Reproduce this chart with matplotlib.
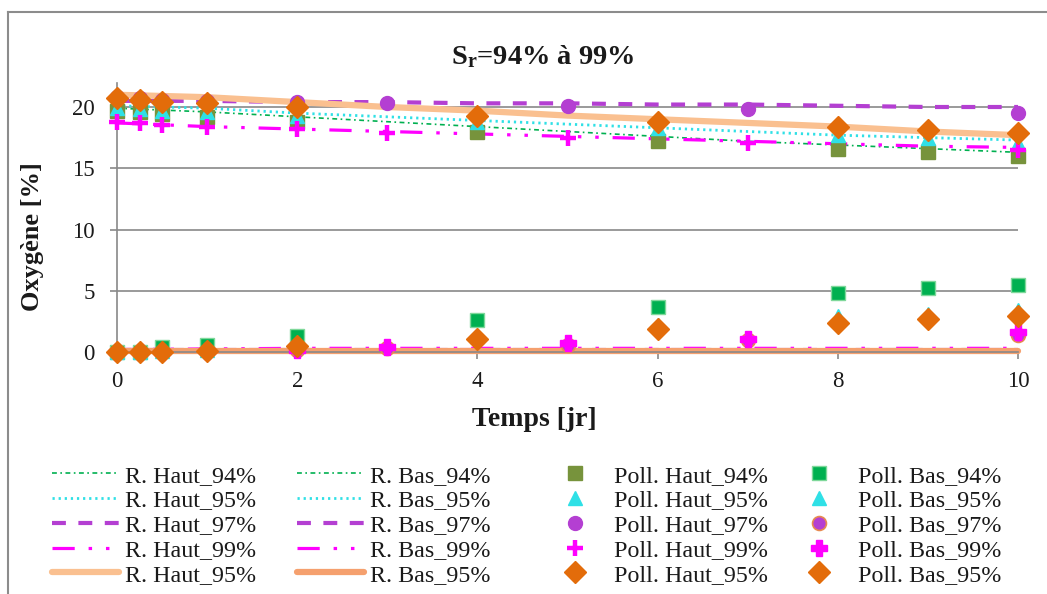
import matplotlib
matplotlib.use("Agg")
import matplotlib.pyplot as plt
from matplotlib.lines import Line2D

plt.rcParams['font.family'] = ['Liberation Serif', 'DejaVu Serif']
plt.rcParams['mathtext.fontset'] = 'custom'
plt.rcParams['mathtext.rm'] = 'Liberation Serif'
plt.rcParams['mathtext.bf'] = 'Liberation Serif:bold'
plt.rcParams['lines.scale_dashes'] = False

# ---------------- data ----------------
t_model = [0, 1, 2, 3, 4, 5, 6, 7, 8, 9, 10]
r_haut_94 = [19.9, 19.6, 19.2, 18.8, 18.4, 18.0, 17.6, 17.2, 16.9, 16.6, 16.3]
r_haut_95 = [20.1, 19.9, 19.5, 19.2, 18.9, 18.6, 18.3, 18.0, 17.7, 17.5, 17.3]
r_haut_97 = [20.5, 20.5, 20.4, 20.4, 20.3, 20.3, 20.2, 20.2, 20.1, 20.0, 20.0]
r_haut_99 = [18.7, 18.4, 18.2, 18.0, 17.8, 17.6, 17.4, 17.2, 17.0, 16.8, 16.7]
r_haut_95b = [21.0, 20.8, 20.4, 20.0, 19.7, 19.3, 19.0, 18.7, 18.4, 18.0, 17.7]
r_bas_94 = [0.1, 0.1, 0.1, 0.1, 0.1, 0.1, 0.1, 0.1, 0.1, 0.1, 0.1]
r_bas_95 = [0.1, 0.1, 0.1, 0.1, 0.1, 0.1, 0.1, 0.1, 0.1, 0.1, 0.1]
r_bas_97 = [0.15, 0.15, 0.15, 0.15, 0.15, 0.15, 0.15, 0.15, 0.15, 0.15, 0.15]
r_bas_99 = [0.2, 0.25, 0.3, 0.3, 0.3, 0.3, 0.3, 0.3, 0.3, 0.3, 0.3]
r_bas_95b = [0.05, 0.05, 0.05, 0.05, 0.05, 0.05, 0.05, 0.05, 0.05, 0.05, 0.05]

t_a = [0, 0.25, 0.5, 1, 2, 4, 6, 8, 9, 10]
p_haut_94 = [19.7, 19.6, 19.4, 19.2, 18.8, 18.0, 17.2, 16.6, 16.3, 16.0]
p_bas_94 = [0.0, 0.0, 0.4, 0.6, 1.3, 2.6, 3.7, 4.8, 5.2, 5.5]
p_haut_95 = [19.9, 19.8, 19.7, 19.6, 19.3, 18.8, 18.3, 17.7, 17.5, 17.1]
p_bas_95 = [0.0, 0.0, 0.1, 0.2, 0.6, 1.3, 2.2, 2.9, 3.1, 3.4]
p_haut_95b = [20.7, 20.6, 20.4, 20.3, 20.0, 19.3, 18.8, 18.4, 18.1, 17.9]
p_bas_95b = [0.0, 0.0, 0.0, 0.1, 0.5, 1.1, 1.9, 2.4, 2.7, 2.9]

t_b = [0, 0.25, 0.5, 1, 2, 3, 5, 7, 10]
p_haut_97 = [20.8, 20.7, 20.6, 20.5, 20.4, 20.3, 20.1, 19.8, 19.5]
p_bas_97 = [0.0, 0.0, 0.0, 0.1, 0.2, 0.35, 0.6, 1.0, 1.4]
p_haut_99 = [18.8, 18.7, 18.5, 18.4, 18.2, 17.9, 17.5, 17.1, 16.5]
p_bas_99 = [0.0, 0.0, 0.0, 0.1, 0.2, 0.4, 0.7, 1.1, 1.6]

x_ticks = [0, 2, 4, 6, 8, 10]
y_ticks = [0, 5, 10, 15, 20]

# ---------------- figure ----------------
W, H = 1047, 594
fig = plt.figure(figsize=(W / 100, H / 100), dpi=100)

def fx(px):
    return px / W

def fy(py):
    return 1 - py / H

x0, x1 = 117, 1018
y0 = 352
ytop = 352 - 22 * 12.25
ax = fig.add_axes([fx(x0), fy(y0), fx(x1) - fx(x0), fy(ytop) - fy(y0)])
ax.set_xlim(0, 10)
ax.set_ylim(0, 22)

grid_c = '#898989'
for s in ['top', 'right']:
    ax.spines[s].set_visible(False)
for s in ['left', 'bottom']:
    ax.spines[s].set_color(grid_c)
    ax.spines[s].set_linewidth(1.2)
ax.set_yticks(y_ticks)
ax.set_xticks(x_ticks)
ax.tick_params(axis='both', direction='out', color=grid_c, width=1.2, length=5,
               labelsize=16.5, labelcolor='#1a1a1a')
ax.tick_params(axis='y', pad=11)
ax.tick_params(axis='x', pad=9)
ax.yaxis.grid(True, color=grid_c, linewidth=1.2)
ax.set_axisbelow(True)

green = '#00B050'
cyan = '#2FE0E6'
purple = '#B43FD2'
magenta = '#FF00FF'
orange_l = '#FAC090'
orange_b = '#F5A06E'
olive = '#77933C'
orange_d = '#E36C0A'

sty_94 = dict(color=green, lw=1.2, linestyle=(0, (3.5, 2.5, 1.2, 2.5)))
sty_95 = dict(color=cyan, lw=2.0, linestyle=(0, (1.6, 2.8)))
sty_97 = dict(color=purple, lw=3.0, linestyle=(0, (10, 9)))
sty_99 = dict(color=magenta, lw=2.3, linestyle=(0, (16, 10, 2.5, 10, 2.5, 10)))
sty_95b_h = dict(color=orange_l, lw=4.5, linestyle='-', solid_capstyle='round')
sty_95b_b = dict(color=orange_b, lw=4.5, linestyle='-', solid_capstyle='round')

lh = ax.plot(t_model, r_haut_94, label='R. Haut_94%', **sty_94)[0]
lh2 = ax.plot(t_model, r_haut_95, label='R. Haut_95%', **sty_95)[0]
lh3 = ax.plot(t_model, r_haut_97, label='R. Haut_97%', **sty_97)[0]
lh4 = ax.plot(t_model, r_haut_99, label='R. Haut_99%', **sty_99)[0]
lh5 = ax.plot(t_model, r_haut_95b, label='R. Haut_95%', **sty_95b_h)[0]
lb = ax.plot(t_model, r_bas_94, label='R. Bas_94%', **sty_94)[0]
lb2 = ax.plot(t_model, r_bas_95, label='R. Bas_95%', **sty_95)[0]
lb3 = ax.plot(t_model, r_bas_97, label='R. Bas_97%', **sty_97)[0]
lb4 = ax.plot(t_model, r_bas_99, label='R. Bas_99%', **sty_99)[0]
lb5 = ax.plot(t_model, r_bas_95b, label='R. Bas_95%', **sty_95b_b)[0]
for l in [lh, lh2, lh3, lh4, lh5, lb, lb2, lb3, lb4, lb5]:
    l.set_clip_on(False)

mk = dict(linestyle='none', clip_on=False, zorder=3)
m1 = ax.plot(t_a, p_haut_94, marker='s', ms=10.5, color=olive, mec=olive, label='Poll. Haut_94%', **mk)[0]
m2 = ax.plot(t_a, p_bas_94, marker='s', ms=10.5, color=green, mec='#7FD89A', mew=1, label='Poll. Bas_94%', **mk)[0]
m3 = ax.plot(t_a, p_haut_95, marker='^', ms=10.5, color=cyan, mec=cyan, label='Poll. Haut_95%', **mk)[0]
m4 = ax.plot(t_a, p_bas_95, marker='^', ms=10.5, color=cyan, mec=cyan, label='Poll. Bas_95%', **mk)[0]
m5 = ax.plot(t_b, p_haut_97, marker='o', ms=10, color=purple, mec=purple, label='Poll. Haut_97%', **mk)[0]
m6 = ax.plot(t_b, p_bas_97, marker='o', ms=10, color=purple, mec='#E88A50', mew=1.2, label='Poll. Bas_97%', **mk)[0]
m7 = ax.plot(t_b, p_haut_99, marker='+', ms=11, mew=3.2, color=magenta, label='Poll. Haut_99%', **mk)[0]
m8 = ax.plot(t_b, p_bas_99, marker='P', ms=11, color=magenta, mec=magenta, label='Poll. Bas_99%', **mk)[0]
m9 = ax.plot(t_a, p_haut_95b, marker='D', ms=11.5, color=orange_d, mec=orange_d, label='Poll. Haut_95%', **mk)[0]
m10 = ax.plot(t_a, p_bas_95b, marker='D', ms=11.5, color=orange_d, mec=orange_d, label='Poll. Bas_95%', **mk)[0]

# labels and title
fig.text(fx(543), fy(57), r'$\mathbf{S_r}$=94% à 99%', fontsize=20.5, fontweight='bold',
         ha='center', va='center', color='#1a1a1a')
fig.text(fx(534), fy(420), 'Temps [jr]', fontsize=20, fontweight='bold',
         ha='center', va='center', color='#1a1a1a')
fig.text(fx(33), fy(237), 'Oxygène [%]', fontsize=19, fontweight='bold',
         ha='center', va='center', rotation=90, color='#1a1a1a')

# legends (four columns)
cols = [
    ([lh, lh2, lh3, lh4, lh5], 52),
    ([lb, lb2, lb3, lb4, lb5], 297),
    ([m1, m3, m5, m7, m9], 541),
    ([m2, m4, m6, m8, m10], 785),
]
for handles, left in cols:
    leg = fig.legend(handles=handles, labels=[h.get_label() for h in handles],
                     loc='upper left', bbox_to_anchor=(fx(left), fy(465)),
                     frameon=False, fontsize=17.3, handlelength=2.8,
                     handletextpad=0.25, borderpad=0, borderaxespad=0,
                     labelspacing=0.12, numpoints=1)
    for txt in leg.get_texts():
        txt.set_color('#1a1a1a')

# chart border (left and top visible)
fig.add_artist(Line2D([fx(8), fx(8)], [fy(12), 0], color='#8C8C8C', lw=1.5))
fig.add_artist(Line2D([fx(8), 1], [fy(12), fy(12)], color='#8C8C8C', lw=1.5))

fig.savefig('out.png', dpi=100)
